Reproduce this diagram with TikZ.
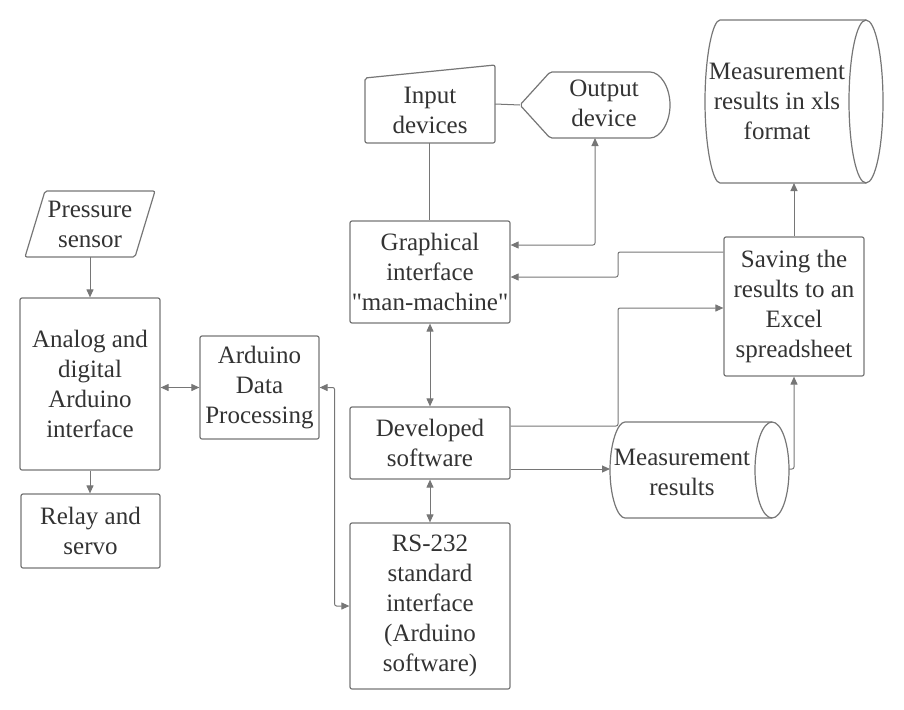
\documentclass[tikz,border=0pt]{standalone}
\usepackage{fontspec}
\setmainfont{Liberation Serif}[Ligatures=TeXOff]
\usepackage{xcolor}
\usepackage{tikz}
\usetikzlibrary{arrows.meta}
\definecolor{linegray}{RGB}{118,118,118}
\definecolor{textgray}{RGB}{51,51,51}

\begin{document}
\begin{tikzpicture}[x=1pt, y=-1pt,
    label/.style={inner sep=0pt, align=center, text=textgray, font=\fontsize{25}{30}\selectfont},
    box/.style={label, draw=linegray, line width=1.2pt, rounded corners=2pt},
    outline/.style={draw=linegray, line width=1.2pt, rounded corners=2pt},
    link/.style={draw=linegray, line width=1pt, rounded corners=2pt},
    tip/.style={arrows={-Triangle[length=8pt,width=7pt]}},
    tips/.style={arrows={Triangle[length=8pt,width=7pt]-Triangle[length=8pt,width=7pt]}}]
  \useasboundingbox (0,0) rectangle (904,709);
  % boxes
  \node[box, minimum width=140, minimum height=172] (analog) at (90,384) {Analog and\\digital\\Arduino\\interface};
  \node[box, minimum width=139, minimum height=74] (relay) at (90.5,531) {Relay and\\servo};
  \node[box, minimum width=119, minimum height=103] (arduino) at (259.5,387.5) {Arduino\\Data\\Processing};
  \node[box, minimum width=160, minimum height=102] (gui) at (430,272) {Graphical\\interface\\"man-machine"};
  \node[box, minimum width=160, minimum height=72] (dev) at (430,443) {Developed\\software};
  \node[box, minimum width=160, minimum height=166] (rs) at (430,606) {RS-232\\standard\\interface\\(Arduino\\software)};
  \node[box, minimum width=140, minimum height=139] (save) at (794,306.5) {Saving the\\results to an\\Excel\\spreadsheet};
  % pressure sensor
  \draw[outline] (45,191) -- (155,191) -- (135,257) -- (25,257) -- cycle;
  \node[label, minimum height=66] (ps) at (90,224) {Pressure\\sensor};
  % input and output devices
  \draw[outline] (365,78) -- (495,65) -- (495,143) -- (365,143) -- cycle;
  \node[label] (input) at (430,110) {Input\\devices};
  \coordinate (inb) at (429,143);
  \coordinate (inr) at (495,104);
  \draw[outline] (520,105) -- (550,72) -- (648,72)
    arc[start angle=-90, end angle=90, x radius=22, y radius=33] -- (550,138) -- cycle;
  \node[label] (output) at (604,103) {Output\\device};
  \coordinate (outl) at (520,105);
  \coordinate (outb) at (595,138);
  % storages
  \draw[outline] (866,20) -- (722,20) arc[start angle=-90, end angle=-270, x radius=17, y radius=81.5] -- (866,183);
  \draw[outline] (866,101.5) ellipse[x radius=17, y radius=81.5];
  \node[label] (xls) at (777,101) {Measurement\\results in xls\\format};
  \coordinate (xlsb) at (794,183);
  \draw[outline] (772,422) -- (627,422) arc[start angle=-90, end angle=-270, x radius=17, y radius=48] -- (772,518);
  \draw[outline] (772,470) ellipse[x radius=17, y radius=48];
  \node[label] (meas) at (682,472) {Measurement\\results};
  \coordinate (measl) at (610,469);
  \coordinate (measr) at (789,469);
  % connectors
  \draw[link, tip] (ps.south) -- (analog.north);
  \draw[link, tip] (analog.south) -- (analog.south |- relay.north);
  \draw[link, tips] (analog.east |- arduino.west) -- (arduino.west);
  \draw[link] (inb) -- (inb |- gui.north);
  \draw[link] (inr) -- (outl);
  \draw[link, tips] ([yshift=27pt]gui.east) -- (595,245) -- (outb);
  \draw[link, tip] ([yshift=54.5pt]save.west) -- (618,252) -- (618,277) -- ([yshift=-5pt]gui.east);
  \draw[link, tips] (gui.south) -- (gui.south |- dev.north);
  \draw[link, tips] (dev.south) -- (rs.north);
  \draw[link, tips] (arduino.east) -- ++(15,0) |- (rs.west);
  \draw[link, tip] ([yshift=17pt]dev.east) -- (618,426) |- ([yshift=-1.5pt]save.west);
  \draw[link, tip] ([yshift=-26pt]dev.east) -- (measl);
  \draw[link, tip] (measr) -| (save.south);
  \draw[link, tip] (save.north) -- (xlsb);
\end{tikzpicture}
\end{document}
